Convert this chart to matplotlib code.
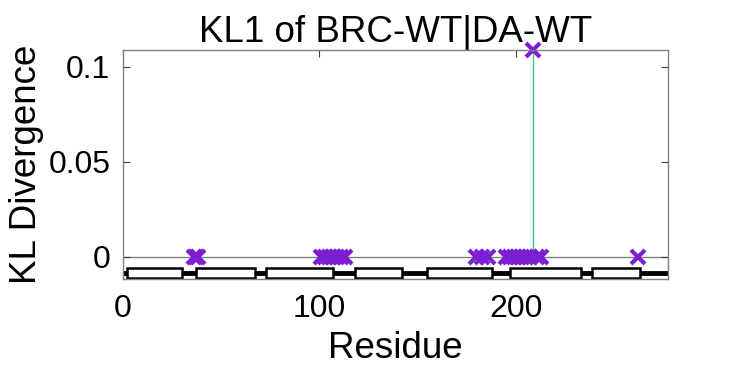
import matplotlib
matplotlib.use("Agg")
import matplotlib.pyplot as plt
from matplotlib.patches import Rectangle

plt.rcParams['font.family'] = ['Liberation Sans', 'DejaVu Sans']

# Data
residues_zero = [36, 37, 38, 101, 103, 105, 107, 109, 111, 113,
                 180, 183, 186, 195, 197, 199, 201, 203, 205, 207, 211, 213, 262]
peak_residue = [209]
peak_value = [0.109]
# secondary structure segments (start, end) residue
helices = [(2, 30), (37, 67), (73, 107), (118, 142), (155, 188),
           (197, 233), (239, 263)]
xticks = [0, 100, 200]
yticks = [0, 0.05, 0.1]
yticklabels = ['0', '0.05', '0.1']

fig = plt.figure(figsize=(7.39, 3.70), dpi=100)
ax = fig.add_axes([0.1664, 0.246, 0.7375, 0.619])

xmax = 277.5
ymin, ymax = -0.0116, 0.1089
ax.set_xlim(0, xmax)
ax.set_ylim(ymin, ymax)

# zero line
ax.axhline(0, color='#808080', lw=1.0, zorder=1)

# stem
for r, v in zip(peak_residue, peak_value):
    ax.plot([r, r], [0, v], color='#3fbfa0', lw=1.0, zorder=2)

ax.plot(residues_zero, [0] * len(residues_zero), 'x', color='#7b1fd0',
        ms=10, mew=3, zorder=4, clip_on=False)
ax.plot(peak_residue, peak_value, 'x', color='#7b1fd0',
        ms=10, mew=3, zorder=4, clip_on=False)

# secondary structure track
ax.plot([0, xmax], [-0.0084, -0.0084], color='black', lw=3.5, zorder=3,
        solid_capstyle='butt')
for s, e in helices:
    ax.add_patch(Rectangle((s, -0.0113), e - s, 0.0055, facecolor='white',
                           edgecolor='black', lw=1.8, zorder=3))

ax.set_xticks(xticks)
ax.set_yticks(yticks)
ax.set_yticklabels(yticklabels)
ax.tick_params(direction='in', length=5, width=0.8, color='#404040',
               labelsize=23, top=True, right=True)
ax.tick_params(axis='x', pad=11)
ax.tick_params(axis='y', pad=9)
for sp in ax.spines.values():
    sp.set_color('#808080')
    sp.set_linewidth(1.0)
    sp.set_zorder(5)

ax.set_title('KL1 of BRC-WT|DA-WT', fontsize=26.5, pad=6)
ax.set_xlabel('Residue', fontsize=26.5, labelpad=5)
ax.set_ylabel('KL Divergence', fontsize=26.5, labelpad=3)

fig.savefig('out.png', dpi=100)
